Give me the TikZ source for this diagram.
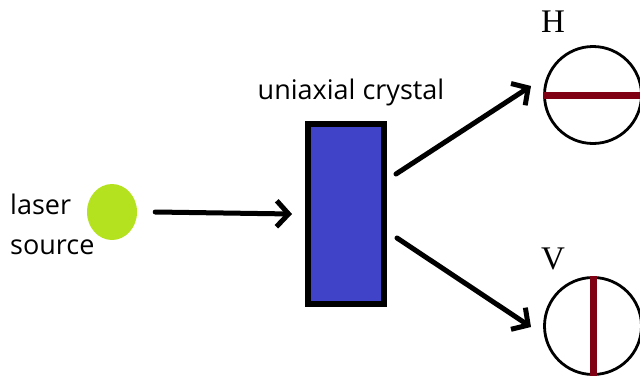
\documentclass[tikz,border=0pt]{standalone}
\usepackage{fontspec}
\setmainfont{Liberation Serif}
\newfontfamily\labelfont{Open Sans}
\usetikzlibrary{arrows.meta,shapes.geometric}
\definecolor{lime}{RGB}{180,226,30}
\definecolor{crys}{RGB}{64,66,200}
\definecolor{bar}{RGB}{128,0,20}
\tikzset{
  beam/.style={line width=5pt, line cap=round, -{Straight Barb[length=12pt,width=26pt,line width=5pt]}},
  polcircle/.style={circle, draw=black, line width=2.8pt, minimum size=97pt, inner sep=0pt},
  polbar/.style={line width=7pt, draw=bar},
  sanslabel/.style={font=\labelfont\fontsize{27}{32}\selectfont, inner sep=0pt},
  serlabel/.style={font=\fontsize{33}{36}\selectfont, inner sep=0pt}
}
\begin{document}
\begin{tikzpicture}[x=1pt,y=-1pt]
\useasboundingbox (0,0) rectangle (640,378);
\clip (0,0) rectangle (640,378);
\fill[white] (0,0) rectangle (640,378);
% laser source
\node[ellipse, fill=lime, minimum width=50pt, minimum height=56pt, inner sep=0pt] (laser) at (112,212) {};
\node[sanslabel, anchor=west] (t1) at (10,204) {laser};
\node[sanslabel, anchor=west] (t2) at (10,247) {source};
% crystal
\node[rectangle, draw=black, fill=crys, line width=6pt, minimum width=76pt, minimum height=180pt, inner sep=0pt] (crystal) at (346,214) {};
\node[sanslabel] (t3) at (351,92) {uniaxial crystal};
% detectors
\node[polcircle] (H) at (593,95) {};
\node[polcircle] (V) at (593,326) {};
\node[serlabel] (hl) at (553,22) {H};
\node[serlabel] (vl) at (553,259) {V};
\draw[polbar] (H.west) -- ([xshift=50pt]H.center);
\draw[polbar] (V.north) -- (V.south);
% beams
\draw[beam] ([xshift=18pt]laser.east) -- ([xshift=-13pt]crystal.west);
\coordinate (u1) at (396,174);
\coordinate (u2) at (531,86);
\coordinate (d1) at (397,238);
\coordinate (d2) at (531,327);
\draw[beam] (u1) -- (u2);
\draw[beam] (d1) -- (d2);
\end{tikzpicture}
\end{document}
